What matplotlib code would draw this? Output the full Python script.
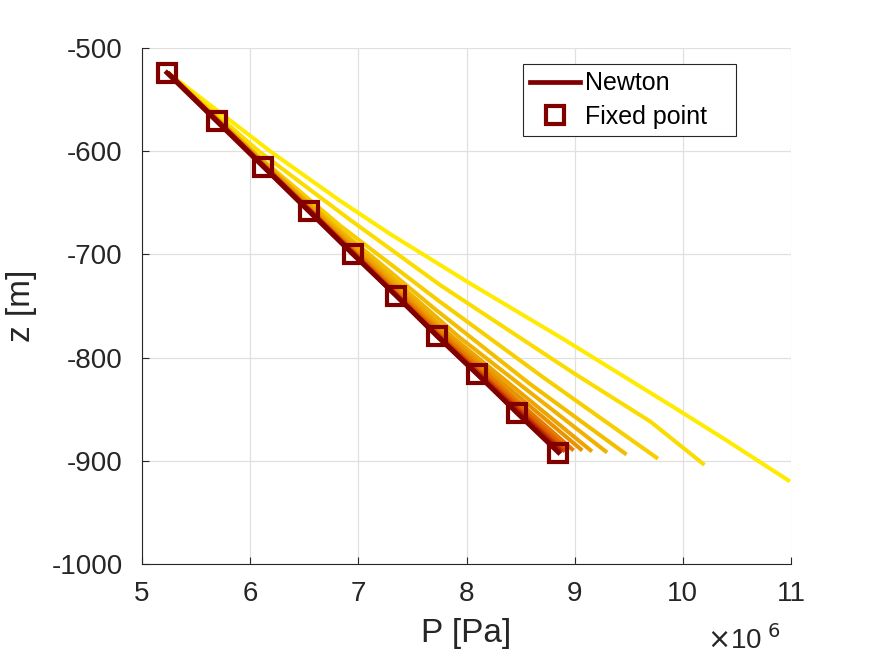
import matplotlib
matplotlib.use('Agg')
import matplotlib.pyplot as plt
from matplotlib.colors import LinearSegmentedColormap

# fixed point iterations (P in units of 1e6 Pa, z in m), first = most yellow
iter_P = [
    [5.24, 6.21, 6.83, 7.29, 8.03, 8.91, 9.96, 10.40, 10.99],
    [5.24, 6.08, 6.93, 7.76, 8.99, 9.70, 10.20],
    [5.24, 6.02, 6.83, 7.73, 8.72, 9.77],
    [5.24, 6.00, 6.78, 7.72, 8.58, 9.48],
    [5.24, 6.76, 7.93, 9.30],
    [5.24, 6.74, 7.87, 9.16],
    [5.24, 6.72, 7.83, 9.07],
    [5.24, 6.71, 7.80, 8.99],
    [5.24, 6.70, 7.77, 8.94],
    [5.24, 6.70, 7.76, 8.91],
    [5.24, 6.69, 7.75, 8.89],
    [5.24, 6.69, 7.74, 8.87],
    [5.24, 6.69, 7.73, 8.86],
]
iter_z = [
    [-524, -602, -648, -680, -728, -783, -851, -880, -920],
    [-524, -600, -667, -730, -815, -862, -904],
    [-524, -600, -672, -744, -820, -898],
    [-524, -600, -672, -754, -825, -894],
    [-524, -672, -780, -892],
    [-524, -672, -780, -891],
    [-524, -672, -780, -890],
    [-524, -672, -780, -890],
    [-524, -672, -780, -890],
    [-524, -672, -780, -891],
    [-524, -672, -780, -891],
    [-524, -672, -780, -891],
    [-524, -672, -780, -892],
]

newton_P = [5.23, 5.69, 6.12, 6.54, 6.95, 7.35, 7.73, 8.10, 8.47, 8.85]
newton_z = [-524, -571, -615, -658, -700, -740, -779, -816, -854, -892]

fixed_P = [5.23, 5.69, 6.12, 6.54, 6.95, 7.35, 7.73, 8.10, 8.47, 8.85]
fixed_z = [-524, -571, -615, -658, -700, -740, -779, -816, -854, -892]

x_ticks = [5, 6, 7, 8, 9, 10, 11]
y_ticks = [-1000, -900, -800, -700, -600, -500]

dark_red = (0.5, 0.0, 0.0)
txt_col = (0.15, 0.15, 0.15)

plt.rcParams['font.family'] = ['Liberation Sans', 'DejaVu Sans']

fig = plt.figure(figsize=(8.75, 6.57), dpi=100)
ax = fig.add_axes([0.1623, 0.1416, 0.7417, 0.7854])

cmap = LinearSegmentedColormap.from_list(
    'it', [(1.0, 0.92, 0.0), (0.95, 0.75, 0.0), (0.92, 0.58, 0.0),
           (0.85, 0.3, 0.0), (0.6, 0.02, 0.0)])
n = len(iter_P)
for k in range(n):
    ax.plot(iter_P[k], iter_z[k], color=cmap(k / (n - 1)), lw=2.9,
            solid_capstyle='butt', solid_joinstyle='round', zorder=2)

ax.plot(newton_P, newton_z, color=dark_red, lw=3.4, zorder=3, label='Newton')
ax.plot(fixed_P, fixed_z, ls='none', marker='s', ms=13, mew=3.0,
        mec=dark_red, mfc='none', zorder=4, label='Fixed point   ')

ax.set_xlim(5, 11)
ax.set_ylim(-1000, -500)
ax.set_xticks(x_ticks)
ax.set_yticks(y_ticks)
ax.set_xticklabels([str(t) for t in x_ticks])
ax.set_yticklabels([str(t) for t in y_ticks])
ax.tick_params(direction='in', length=5, width=0.8, labelsize=20,
               colors=txt_col)
ax.tick_params(axis='y', pad=14)
ax.tick_params(axis='x', pad=12)
ax.grid(True, color=(0.88, 0.88, 0.88), lw=0.9)
ax.set_axisbelow(True)
for s in ['top', 'right']:
    ax.spines[s].set_visible(False)
for s in ['left', 'bottom']:
    ax.spines[s].set_color(txt_col)
    ax.spines[s].set_linewidth(0.8)

ax.set_xlabel('P [Pa]', fontsize=24, color=txt_col, labelpad=8)
ax.set_ylabel('z [m]', fontsize=24, color=txt_col, labelpad=10)
ax.text(0.985, -0.165, r'$\times$10$^{\ 6}$', transform=ax.transAxes,
        ha='right', va='baseline', fontsize=20, color=txt_col)

leg = ax.legend(loc='upper right', bbox_to_anchor=(0.915, 0.969),
                borderaxespad=0, fontsize=18, fancybox=False,
                framealpha=1, edgecolor=txt_col, handlelength=2.0,
                borderpad=0.3, labelspacing=0.38, handletextpad=0.2)
leg.get_frame().set_linewidth(0.8)

fig.savefig('out.png', dpi=100)
